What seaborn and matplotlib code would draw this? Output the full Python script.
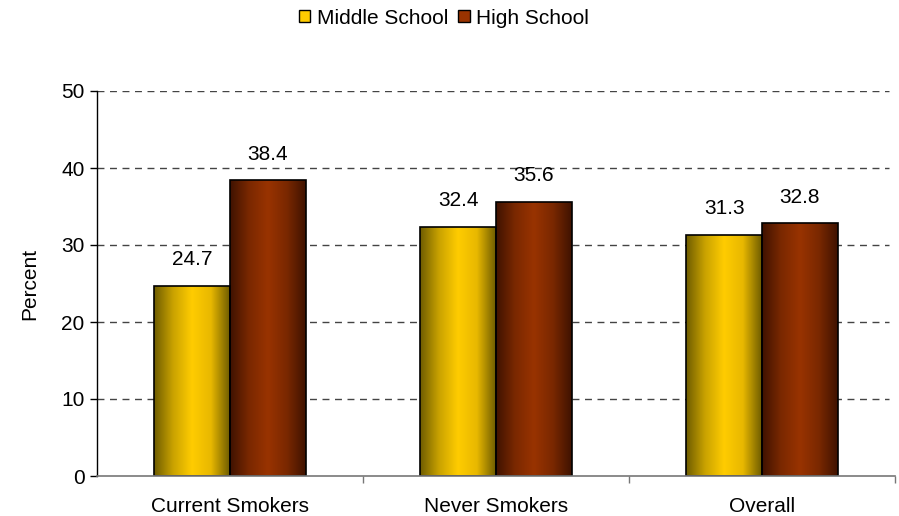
import numpy as np
import pandas as pd
import matplotlib
matplotlib.use("Agg")
import matplotlib.pyplot as plt
import seaborn as sns
from matplotlib.colors import LinearSegmentedColormap
from matplotlib.patches import Patch

categories = ["Current Smokers", "Never Smokers", "Overall"]
series = ["Middle School", "High School"]
middle_school = [24.7, 32.4, 31.3]
high_school = [38.4, 35.6, 32.8]
y_ticks = [0, 10, 20, 30, 40, 50]

df = pd.DataFrame({
    "Category": categories * 2,
    "Group": [series[0]] * 3 + [series[1]] * 3,
    "Percent": middle_school + high_school,
})

sns.set_theme(style="white")
plt.rcParams["font.family"] = ["Liberation Sans", "DejaVu Sans"]
plt.rcParams["text.color"] = "black"
plt.rcParams["xtick.color"] = "black"
plt.rcParams["ytick.color"] = "black"
plt.rcParams["axes.labelcolor"] = "black"

FS = 15
fig = plt.figure(figsize=(8.99, 5.16), dpi=100)
ax = fig.add_axes([97 / 899, 1 - 476 / 516, (895 - 97) / 899, (476 - 91) / 516])

mid_color = "#FFCC00"
high_color = "#993300"
sns.barplot(data=df, x="Category", y="Percent", hue="Group",
            palette=[mid_color, high_color], width=0.57,
            edgecolor="black", linewidth=1.2, ax=ax, legend=False,
            saturation=1)

cmaps = {
    0: LinearSegmentedColormap.from_list("g", ["#6e5c00", "#c9a200", "#FFCC00", "#e8b800", "#6e5c00"]),
    1: LinearSegmentedColormap.from_list("b", ["#3f1200", "#7a2800", "#993300", "#7a2800", "#3f1200"]),
}
grad = np.linspace(0, 1, 256).reshape(1, -1)
for ci, container in enumerate(ax.containers):
    for bar in container:
        x0, y0 = bar.get_x(), bar.get_y()
        w, h = bar.get_width(), bar.get_height()
        im = ax.imshow(grad, cmap=cmaps[ci], aspect="auto",
                       extent=[x0, x0 + w, y0, y0 + h], zorder=bar.get_zorder() + 0.1,
                       interpolation="bicubic")
        im.set_clip_path(bar)
        bar.set_facecolor("none")
        bar.set_zorder(bar.get_zorder() + 0.2)
    ax.bar_label(container, fmt="%.1f", padding=12, fontsize=FS, color="black")

ax.set_xlim(-0.5, 2.5)
ax.set_ylim(0, 50)
ax.set_yticks(y_ticks)
ax.set_yticklabels([str(t) for t in y_ticks], fontsize=FS)
ax.tick_params(axis="x", labelsize=FS, length=0, pad=15, labelcolor="black")
ax.tick_params(axis="y", length=5, width=1, color="black", left=True, pad=4, labelcolor="black")
ax.set_xticks([0, 1, 2])
ax.set_xticks([0.5, 1.5, 2.5], minor=True)
ax.tick_params(axis="x", which="minor", length=5, width=1, color="#777777", bottom=True)
ax.set_xlabel("")
ax.set_ylabel("Percent", fontsize=FS, labelpad=16, color="black")

for t in y_ticks[1:]:
    ax.axhline(t, color="#444444", linestyle=(0, (5, 4)), linewidth=1, zorder=0.5, xmax=0.992)

for s in ["top", "right"]:
    ax.spines[s].set_visible(False)
ax.spines["left"].set_color("black")
ax.spines["left"].set_linewidth(1)
ax.spines["bottom"].set_color("#777777")
ax.spines["bottom"].set_linewidth(1.2)

handles = [Patch(facecolor=mid_color, edgecolor="black", label=series[0]),
           Patch(facecolor=high_color, edgecolor="black", label=series[1])]
fig.legend(handles=handles, loc="center", bbox_to_anchor=(444 / 899, 1 - 18 / 516),
           ncol=2, frameon=False, fontsize=FS, handlelength=0.55, handleheight=0.55,
           handletextpad=0.3, columnspacing=0.5)

fig.savefig("out.png", dpi=100)
